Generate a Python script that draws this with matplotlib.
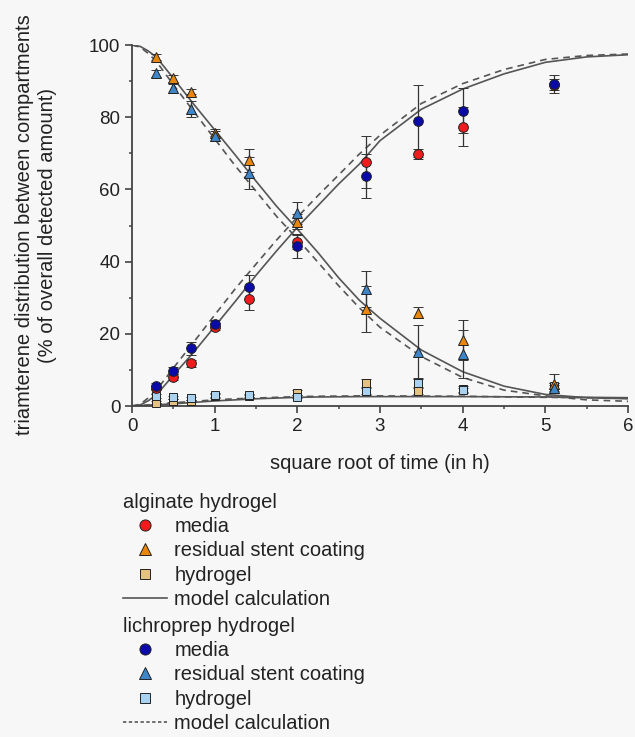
import numpy as np
import matplotlib
matplotlib.use("Agg")
import matplotlib.pyplot as plt
from matplotlib.lines import Line2D

plt.rcParams['font.family'] = ['Liberation Sans', 'DejaVu Sans']

# sqrt(time in h) of the sampling points
x_obs = [0.29, 0.5, 0.71, 1.0, 1.41, 2.0, 2.83, 3.46, 4.0, 5.1]

# alginate hydrogel
alg_media = [5.0, 8.0, 11.8, 22.0, 29.6, 45.5, 67.5, 69.8, 77.3, 89.0]
alg_media_err = [0.5, 0.8, 1.0, 1.0, 3.1, 2.0, 7.2, 1.5, 5.4, 1.5]
alg_coat = [96.6, 90.8, 87.1, 75.7, 68.1, 51.1, 26.8, 25.9, 18.3, 6.2]
alg_coat_err = [0.8, 1.0, 0.8, 1.0, 3.2, 2.0, 6.4, 1.5, 5.5, 2.6]
alg_gel = [0.9, 1.5, 1.4, 2.8, 2.7, 3.7, 6.3, 4.2, 4.8, 5.0]
alg_gel_err = [0.4, 0.4, 0.4, 0.5, 0.4, 0.6, 1.2, 1.0, 0.8, 0.8]

# lichroprep hydrogel
lic_media = [5.5, 9.8, 16.0, 22.7, 32.9, 44.3, 63.8, 79.0, 81.8, 89.2]
lic_media_err = [0.8, 1.0, 1.8, 1.2, 3.4, 3.4, 6.1, 10.0, 6.3, 2.4]
lic_coat = [92.2, 88.0, 82.3, 74.8, 64.6, 53.4, 32.3, 15.0, 14.4, 5.0]
lic_coat_err = [1.0, 1.2, 2.3, 1.5, 4.4, 3.0, 5.0, 7.4, 6.6, 1.5]
lic_gel = [2.8, 2.4, 2.1, 3.0, 3.0, 2.6, 4.2, 6.3, 4.3, 5.5]
lic_gel_err = [0.5, 0.5, 0.4, 0.5, 0.4, 0.5, 1.0, 1.4, 0.8, 0.8]

# model calculation curves
x_model = [0, 0.1, 0.2, 0.3, 0.5, 0.75, 1.0, 1.25, 1.5, 1.75, 2.0, 2.25, 2.5,
           2.75, 3.0, 3.5, 4.0, 4.5, 5.0, 5.5, 6.0]
alg_media_model = [0, 0.3, 1.5, 3.2, 8.5, 15.0, 22.0, 29.0, 36.2, 43.0, 49.5,
                   55.5, 61.5, 67.0, 73.5, 82.2, 87.8, 92.0, 95.2, 96.7, 97.3]
lic_media_model = [0, 0.5, 2.3, 4.5, 10.5, 17.8, 25.2, 32.5, 39.3, 46.0, 52.3,
                   58.3, 64.0, 69.8, 75.0, 83.8, 89.3, 93.2, 96.0, 97.1, 97.5]
alg_coat_model = [100, 99.6, 98.3, 96.5, 90.8, 83.5, 76.5, 69.5, 62.3, 55.3, 49.0,
                  42.5, 35.5, 29.3, 24.3, 15.5, 9.5, 5.5, 3.2, 2.3, 2.0]
lic_coat_model = [100, 99.4, 97.6, 95.3, 89.0, 81.5, 74.0, 66.5, 59.5, 52.5, 46.3,
                  39.8, 33.3, 27.2, 21.8, 13.7, 7.9, 4.4, 2.8, 1.7, 1.3]
alg_gel_model = [0, 0.1, 0.2, 0.35, 0.6, 1.0, 1.4, 1.7, 2.0, 2.2, 2.4,
                 2.5, 2.55, 2.6, 2.6, 2.6, 2.6, 2.55, 2.5, 2.4, 2.3]
lic_gel_model = [0, 0.15, 0.3, 0.5, 0.9, 1.3, 1.7, 2.0, 2.2, 2.4, 2.6,
                 2.7, 2.75, 2.8, 2.8, 2.75, 2.7, 2.55, 2.4, 2.3, 2.2]

bg = '#f7f7f7'
axis_col = '#444444'
line_col = '#555555'
err_col = '#333333'
fs = 14.5
tick_fs = 13.5

red = '#ee1c1c'
navy = '#0a0aa8'
orange = '#e8860e'
sky = '#3f86c8'
tan = '#e5c283'
pale = '#a9d1f0'

fig = plt.figure(figsize=(6.35, 7.37), dpi=100, facecolor=bg)
ax = fig.add_axes([132 / 635, 1 - 406 / 737, (628 - 132) / 635, (406 - 45) / 737])
ax.set_facecolor(bg)

dash = (0, (4, 3))
ax.plot(x_model, alg_media_model, color=line_col, lw=1.2, zorder=2)
ax.plot(x_model, alg_coat_model, color=line_col, lw=1.2, zorder=2)
ax.plot(x_model, alg_gel_model, color=line_col, lw=1.2, zorder=2)
ax.plot(x_model, lic_media_model, color=line_col, lw=1.2, ls=dash, zorder=2)
ax.plot(x_model, lic_coat_model, color=line_col, lw=1.2, ls=dash, zorder=2)
ax.plot(x_model, lic_gel_model, color=line_col, lw=1.2, ls=dash, zorder=2)

series = [
    (alg_gel, alg_gel_err, 's', tan, 5.5),
    (lic_gel, lic_gel_err, 's', pale, 5.5),
    (alg_coat, alg_coat_err, '^', orange, 7),
    (lic_coat, lic_coat_err, '^', sky, 7),
    (alg_media, alg_media_err, 'o', red, 7),
    (lic_media, lic_media_err, 'o', navy, 7),
]
for vals, errs, mk, col, ms in series:
    eb = ax.errorbar(x_obs, vals, yerr=errs, fmt=mk, color=col, mec='#222222',
                     mew=0.7, ms=ms, ecolor=err_col, elinewidth=0.9,
                     capsize=3.5, capthick=0.9, zorder=3)
    parts = [eb.lines[0]] + list(eb.lines[1]) + list(eb.lines[2])
    for art in parts:
        art.set_clip_on(False)

ax.set_xlim(0, 6)
ax.set_ylim(0, 100)
ax.set_xticks(range(0, 7))
ax.set_xticks(np.arange(0.5, 6, 1), minor=True)
ax.set_yticks(range(0, 101, 20))
ax.set_yticks(range(10, 100, 20), minor=True)
for side in ['top', 'right']:
    ax.spines[side].set_visible(False)
for side in ['left', 'bottom']:
    ax.spines[side].set_color(axis_col)
    ax.spines[side].set_linewidth(1.3)
ax.tick_params(which='major', length=4.8, width=1.2, color=axis_col,
               labelsize=tick_fs, labelcolor='#222222', pad=3.5)
ax.tick_params(which='minor', length=2.3, width=1.1, color=axis_col)

ax.set_xlabel('square root of time (in h)', fontsize=fs, color='#222222', labelpad=14)
fig.text(36 / 635, 1 - 225 / 737,
         'triamterene distribution between compartments\n(% of overall detected amount)',
         rotation=90, ha='center', va='center', multialignment='center',
         fontsize=fs, color='#222222', linespacing=1.25)

# legend blocks
def legend_block(title, handles, labels, top_px):
    leg = fig.legend(handles, labels, title=title, loc='upper left',
                     bbox_to_anchor=(123 / 635, 1 - top_px / 737),
                     bbox_transform=fig.transFigure, frameon=False,
                     fontsize=fs, title_fontsize=fs, alignment='left',
                     borderpad=0, borderaxespad=0, handlelength=2.2,
                     handletextpad=0.35, labelspacing=0.26)
    for t in leg.get_texts():
        t.set_color('#222222')
    leg.get_title().set_color('#222222')
    return leg

alg_handles = [
    Line2D([], [], ls='none', marker='o', color=red, mec='#222222', mew=0.7, ms=8),
    Line2D([], [], ls='none', marker='^', color=orange, mec='#222222', mew=0.7, ms=8),
    Line2D([], [], ls='none', marker='s', color=tan, mec='#222222', mew=0.7, ms=6.5),
    Line2D([], [], color=line_col, lw=1.2),
]
lic_handles = [
    Line2D([], [], ls='none', marker='o', color=navy, mec='#222222', mew=0.7, ms=8),
    Line2D([], [], ls='none', marker='^', color=sky, mec='#222222', mew=0.7, ms=8),
    Line2D([], [], ls='none', marker='s', color=pale, mec='#222222', mew=0.7, ms=6.5),
    Line2D([], [], color=line_col, lw=1.2, ls=(0, (2, 1.5))),
]
item_labels = ['media', 'residual stent coating', 'hydrogel', 'model calculation']
leg1 = legend_block('alginate hydrogel', alg_handles, item_labels, 493)
leg2 = legend_block('lichroprep hydrogel', lic_handles, item_labels, 617)

fig.savefig('out.png', dpi=100, facecolor=bg)
